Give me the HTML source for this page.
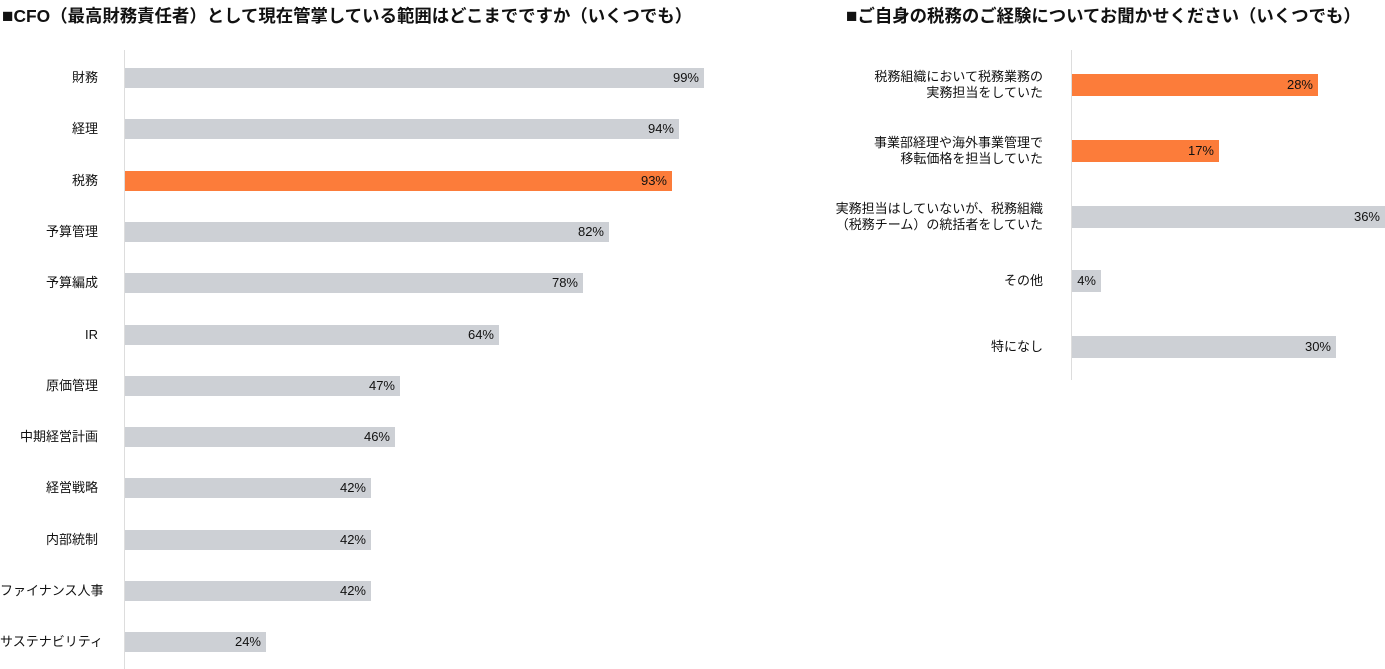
<!DOCTYPE html>
<html><head><meta charset="utf-8"><style>
body{margin:0;width:1385px;height:669px;background:#fff;position:relative;overflow:hidden;font-family:"Liberation Sans","Noto Sans CJK JP",sans-serif;color:#111}
.t{position:absolute;top:3px;font-size:17.4px;font-weight:bold;white-space:nowrap}
.t span{font-size:19px}
.ax{position:absolute;width:1px;background:#ddd}
.b{position:absolute;background:#cdd0d5}
.o{background:#fc7c3a}
.v{position:absolute;font-size:13px;text-align:right}
.l{position:absolute;font-size:13px;text-align:right;line-height:16px;white-space:nowrap}
</style></head><body>
<div class="t" style="left:2px"><span>■</span>CFO（最高財務責任者）として現在管掌している範囲はどこまでですか（いくつでも）</div>
<div class="t" style="left:846px"><span>■</span>ご自身の税務のご経験についてお聞かせください（いくつでも）</div>
<div class="ax" style="left:124px;top:50px;height:619px"></div>
<div class="ax" style="left:1071px;top:50px;height:330px"></div>
<div id="L"></div><div id="R"></div>
<script>
var L=[["財務",704],["経理",679],["税務",672,1],["予算管理",609],["予算編成",583],["IR",499],["原価管理",400],["中期経営計画",395],["経営戦略",371],["内部統制",371],["ファイナンス人事",371],["サステナビリティ",266]];
var P=["99%","94%","93%","82%","78%","64%","47%","46%","42%","42%","42%","24%"];
var h="";
L.forEach(function(d,i){var c=78+i*51.3;
h+='<div class="b'+(d[2]?' o':'')+'" style="left:125px;top:'+(c-10)+'px;width:'+(d[1]-125)+'px;height:20px"></div>';
h+='<div class="v" style="left:'+(d[1]-60)+'px;width:55px;top:'+(c-8)+'px">'+P[i]+'</div>';
h+='<div class="l" style="left:0;width:98px;top:'+(c-8)+'px">'+d[0]+'</div>';});
var R=[["税務組織において税務業務の<br>実務担当をしていた",1318,"28%",1,85],["事業部経理や海外事業管理で<br>移転価格を担当していた",1219,"17%",1,151],["実務担当はしていないが、税務組織<br>（税務チーム）の統括者をしていた",1385,"36%",0,217],["その他",1101,"4%",0,281],["特になし",1336,"30%",0,347]];
R.forEach(function(d){var c=d[4];var two=d[0].indexOf("<br>")>0;
h+='<div class="b'+(d[3]?' o':'')+'" style="left:1072px;top:'+(c-11)+'px;width:'+(d[1]-1072)+'px;height:22px"></div>';
h+='<div class="v" style="left:'+(d[1]-60)+'px;width:55px;top:'+(c-8)+'px">'+d[2]+'</div>';
h+='<div class="l" style="left:780px;width:263px;top:'+(c-(two?16:8))+'px">'+d[0]+'</div>';});
document.getElementById("L").innerHTML=h;
</script>
</body></html>
